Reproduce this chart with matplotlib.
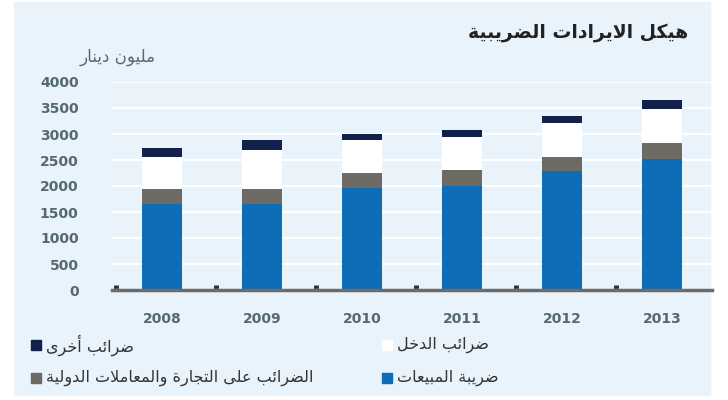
import numpy as np
import matplotlib
matplotlib.use("Agg")
import matplotlib.pyplot as plt
from matplotlib.patches import Rectangle

years = ["2008", "2009", "2010", "2011", "2012", "2013"]
sales_tax = [1650, 1650, 1960, 2000, 2280, 2510]
trade_tax = [300, 300, 290, 310, 270, 310]
income_tax = [600, 740, 640, 640, 670, 670]
other_tax = [190, 190, 115, 130, 130, 170]

title = "هيكل الايرادات الضريبية"
unit = "مليون دينار"
labels = ["ضريبة المبيعات", "الضرائب على التجارة والمعاملات الدولية",
          "ضرائب الدخل", "ضرائب أخرى"]
colors = ["#0f6cb6", "#6e6a64", "#ffffff", "#12204a"]

# matplotlib does no arabic shaping, so pick presentation forms by hand
FORMS = {
    'ا': ('\uFE8D', '\uFE8E', None, None),
    'أ': ('\uFE83', '\uFE84', None, None),
    'ب': ('\uFE8F', '\uFE90', '\uFE91', '\uFE92'),
    'ة': ('\uFE93', '\uFE94', None, None),
    'ت': ('\uFE95', '\uFE96', '\uFE97', '\uFE98'),
    'ج': ('\uFE9D', '\uFE9E', '\uFE9F', '\uFEA0'),
    'خ': ('\uFEA5', '\uFEA6', '\uFEA7', '\uFEA8'),
    'د': ('\uFEA9', '\uFEAA', None, None),
    'ر': ('\uFEAD', '\uFEAE', None, None),
    'ض': ('\uFEBD', '\uFEBE', '\uFEBF', '\uFEC0'),
    'ع': ('\uFEC9', '\uFECA', '\uFECB', '\uFECC'),
    'ك': ('\uFED9', '\uFEDA', '\uFEDB', '\uFEDC'),
    'ل': ('\uFEDD', '\uFEDE', '\uFEDF', '\uFEE0'),
    'م': ('\uFEE1', '\uFEE2', '\uFEE3', '\uFEE4'),
    'ن': ('\uFEE5', '\uFEE6', '\uFEE7', '\uFEE8'),
    'ه': ('\uFEE9', '\uFEEA', '\uFEEB', '\uFEEC'),
    'و': ('\uFEED', '\uFEEE', None, None),
    'ى': ('\uFEEF', '\uFEF0', None, None),
    'ي': ('\uFEF1', '\uFEF2', '\uFEF3', '\uFEF4'),
    'ئ': ('\uFE89', '\uFE8A', '\uFE8B', '\uFE8C'),
}
LAM_ALEF = {'ا': ('\uFEFB', '\uFEFC'), 'أ': ('\uFEF7', '\uFEF8')}


def shape(text):
    tokens = []
    i = 0
    while i < len(text):
        if text[i] == 'ل' and i + 1 < len(text) and text[i + 1] in LAM_ALEF:
            tokens.append(('LA', text[i + 1]))
            i += 2
        else:
            tokens.append(text[i])
            i += 1

    def dual(t):
        return isinstance(t, str) and t in FORMS and FORMS[t][2] is not None

    def arabic(t):
        return isinstance(t, tuple) or t in FORMS

    out = []
    for k, t in enumerate(tokens):
        prev = tokens[k - 1] if k > 0 else None
        nxt = tokens[k + 1] if k + 1 < len(tokens) else None
        joins_prev = prev is not None and dual(prev)
        if isinstance(t, tuple):
            iso, fin = LAM_ALEF[t[1]]
            out.append(fin if joins_prev else iso)
            continue
        if t not in FORMS:
            out.append(t)
            continue
        iso, fin, ini, med = FORMS[t]
        joins_next = ini is not None and nxt is not None and arabic(nxt)
        if joins_prev and joins_next:
            out.append(med)
        elif joins_prev:
            out.append(fin)
        elif joins_next:
            out.append(ini)
        else:
            out.append(iso)
    return ''.join(reversed(out))


plt.rcParams['font.family'] = ['DejaVu Sans']

fig = plt.figure(figsize=(7.28, 4.0), dpi=100)
fig.patch.set_facecolor("white")
fig.patches.append(Rectangle((14 / 728, 5 / 400), (710 - 14) / 728, (398 - 5) / 400,
                             transform=fig.transFigure, color="#e8f3fb", zorder=-1))

ax = fig.add_axes([112 / 728, 1 - 290 / 400, 600 / 728, (290 - 82) / 400])
ax.patch.set_alpha(0)

x = np.arange(len(years))
series = [sales_tax, trade_tax, income_tax, other_tax]
bottom = np.zeros(len(years))
for vals, col in zip(series, colors):
    ax.bar(x, vals, width=0.4, bottom=bottom, color=col, zorder=3)
    bottom += np.array(vals)

ax.set_xlim(-0.5, len(years) - 0.5)
ax.set_ylim(0, 4000)
ax.set_yticks(np.arange(0, 4001, 500))
ax.set_xticks(x)
ax.set_xticklabels(years)
ax.set_xticks(x - 0.46, minor=True)
ax.grid(axis="y", color="white", linewidth=1.6, zorder=0)

for s in ["top", "right", "left"]:
    ax.spines[s].set_visible(False)
ax.spines["bottom"].set_color("#6b6b6b")
ax.spines["bottom"].set_linewidth(2.5)
ax.spines["bottom"].set_zorder(4)

ax.tick_params(axis="y", length=0, pad=24, labelsize=10, labelcolor="#556a70")
ax.tick_params(axis="x", which="major", length=0, pad=16, labelsize=10, labelcolor="#556a70")
ax.tick_params(axis="x", which="minor", length=3.5, width=3.5, color="#2a2f35", direction="in")
for lab in ax.get_xticklabels() + ax.get_yticklabels():
    lab.set_fontweight("bold")

fig.text(688 / 728, 1 - 33 / 400, shape(title), ha="right", va="center",
         fontsize=13.5, fontweight="bold", color="#222222")
fig.text(156 / 728, 1 - 57 / 400, shape(unit), ha="right", va="center",
         fontsize=12, color="#556a70")

# legend, drawn by hand: marker on the left, text after it
legend_pos = [(382, 378), (31, 378), (382, 345), (31, 345)]
for (lx, ly), lab, col in zip(legend_pos, labels, colors):
    fig.patches.append(Rectangle((lx / 728, 1 - (ly + 5) / 400), 10 / 728, 10 / 400,
                                 transform=fig.transFigure, color=col, zorder=2))
    fig.text((lx + 15) / 728, 1 - ly / 400, shape(lab), ha="left", va="center",
             fontsize=11.5, color="#333333")

fig.savefig("out.png", dpi=100)
